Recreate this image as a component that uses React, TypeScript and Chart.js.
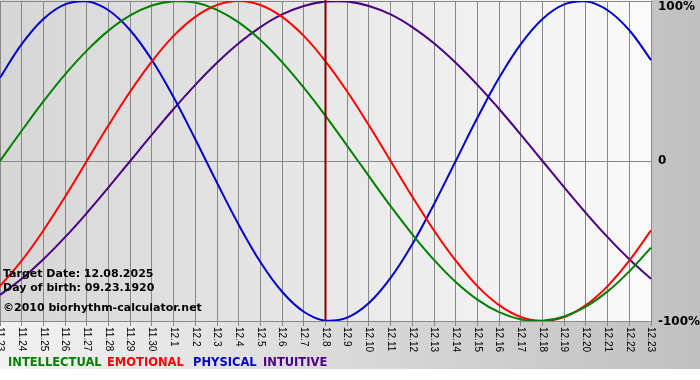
import { useEffect, useRef } from "react";
import { Chart, registerables } from "chart.js";

Chart.register(...registerables);

const dayLabels = ["11.23", "11.24", "11.25", "11.26", "11.27", "11.28", "11.29", "11.30", "12.1", "12.2", "12.3", "12.4", "12.5", "12.6", "12.7", "12.8", "12.9", "12.10", "12.11", "12.12", "12.13", "12.14", "12.15", "12.16", "12.17", "12.18", "12.19", "12.20", "12.21", "12.22", "12.23"];
const targetDay = "12.8";

const intellectual = [0, 0.189, 0.372, 0.541, 0.69, 0.815, 0.91, 0.972, 0.999, 0.99, 0.945, 0.866, 0.756, 0.618, 0.458, 0.282, 0.095, -0.095, -0.282, -0.458, -0.618, -0.756, -0.866, -0.945, -0.99, -0.999, -0.972, -0.91, -0.815, -0.69, -0.541];
const emotional = [-0.782, -0.623, -0.434, -0.223, 0, 0.223, 0.434, 0.623, 0.782, 0.901, 0.975, 1.0, 0.975, 0.901, 0.782, 0.623, 0.434, 0.223, 0, -0.223, -0.434, -0.623, -0.782, -0.901, -0.975, -1.0, -0.975, -0.901, -0.782, -0.623, -0.434];
const physical = [0.52, 0.731, 0.888, 0.979, 0.998, 0.942, 0.817, 0.631, 0.398, 0.136, -0.136, -0.398, -0.631, -0.817, -0.942, -0.998, -0.979, -0.888, -0.731, -0.52, -0.27, 0, 0.27, 0.52, 0.731, 0.888, 0.979, 0.998, 0.942, 0.817, 0.631];
const intuitive = [-0.837, -0.736, -0.614, -0.476, -0.325, -0.165, 0, 0.165, 0.325, 0.476, 0.614, 0.736, 0.837, 0.916, 0.969, 0.997, 0.997, 0.969, 0.916, 0.837, 0.736, 0.614, 0.476, 0.325, 0.165, 0, -0.165, -0.325, -0.476, -0.614, -0.736];

const seriesNames = ["INTELLECTUAL", "EMOTIONAL", "PHYSICAL", "INTUITIVE"];
const seriesColors = ["#008000", "#ff0000", "#0000cc", "#4b0082"];
const legendX = [8, 107, 193, 263];

const yTickValues = [1, 0, -1];
const yTickLabels = ["100%", "0", "-100%"];

const infoLines = ["Target Date: 12.08.2025", "Day of birth: 09.23.1920", "\u00a92010 biorhythm-calculator.net"];
const infoBaselines = [277, 291, 311];

const BOLD = "bold 11px 'DejaVu Sans'";

const decorPlugin = {
  id: "decor",
  beforeDraw(chart: any) {
    const { ctx, width, height, chartArea: a } = chart;
    ctx.save();
    ctx.fillStyle = "#ffffff";
    ctx.fillRect(0, 0, width, height);
    let g = ctx.createLinearGradient(0, 0, width, 0);
    g.addColorStop(0, "#f2f2f2");
    g.addColorStop(1, "#c0c0c0");
    ctx.fillStyle = g;
    ctx.fillRect(0, 0, width, 369);
    g = ctx.createLinearGradient(a.left, 0, a.right, 0);
    g.addColorStop(0, "#d6d6d6");
    g.addColorStop(1, "#fafafa");
    ctx.fillStyle = g;
    ctx.fillRect(a.left, 0, a.right - a.left, a.bottom);
    ctx.restore();
  },
  afterDatasetsDraw(chart: any) {
    const { ctx, chartArea: a, scales } = chart;
    const x = scales.x.getPixelForValue(dayLabels.indexOf(targetDay));
    ctx.save();
    ctx.strokeStyle = "#800000";
    ctx.lineWidth = 2;
    ctx.beginPath();
    ctx.moveTo(x, 0);
    ctx.lineTo(x, a.bottom);
    ctx.stroke();
    ctx.restore();
  },
  afterDraw(chart: any) {
    const { ctx, chartArea: a, scales } = chart;
    ctx.save();
    ctx.fillStyle = "#000000";
    ctx.font = "10px 'Liberation Sans'";
    ctx.textAlign = "left";
    ctx.textBaseline = "middle";
    dayLabels.forEach((lab, i) => {
      const x = scales.x.getPixelForValue(i);
      ctx.save();
      ctx.translate(x, a.bottom + 6);
      ctx.rotate(Math.PI / 2);
      ctx.fillText(lab, 0, 0);
      ctx.restore();
    });
    ctx.font = "bold 12px 'DejaVu Sans'";
    yTickValues.forEach((v, i) => {
      let y = scales.y.getPixelForValue(v);
      y = Math.max(y + (v < 0 ? 1 : 0), 7);
      ctx.fillText(yTickLabels[i], a.right + 7, y);
    });
    ctx.font = BOLD;
    ctx.textBaseline = "alphabetic";
    infoLines.forEach((t, i) => ctx.fillText(t, 3, infoBaselines[i]));
    ctx.font = "bold 11.5px 'DejaVu Sans'";
    seriesNames.forEach((n, i) => {
      ctx.fillStyle = seriesColors[i];
      ctx.fillText(n, legendX[i], 366);
    });
    ctx.restore();
  },
};

export default function App() {
  const ref = useRef<HTMLCanvasElement | null>(null);
  useEffect(() => {
    document.body.style.margin = "0";
    const canvas = ref.current;
    if (!canvas) return;
    const values = [intellectual, emotional, physical, intuitive];
    const chart = new Chart(canvas, {
      type: "line",
      data: {
        labels: dayLabels,
        datasets: values.map((d, i) => ({
          label: seriesNames[i],
          data: d,
          borderColor: seriesColors[i],
          backgroundColor: seriesColors[i],
          borderWidth: 2,
          pointRadius: 0,
          tension: 0.4,
          fill: false,
        })),
      },
      options: {
        animation: false,
        responsive: false,
        devicePixelRatio: 1,
        layout: { padding: { left: 0, right: 49, top: 1, bottom: 54 } },
        plugins: { legend: { display: false }, tooltip: { enabled: false } },
        events: [],
        scales: {
          x: {
            type: "category",
            offset: false,
            ticks: { display: false },
            border: { display: false },
            grid: { color: "#888888", lineWidth: 1, drawTicks: true, tickLength: 5 },
          },
          y: {
            min: -1,
            max: 1,
            ticks: { display: false, stepSize: 1 },
            border: { display: false },
            grid: { color: "#888888", lineWidth: 1, drawTicks: false },
          },
        },
      },
      plugins: [decorPlugin],
    });
    return () => chart.destroy();
  }, []);
  return <canvas ref={ref} width={700} height={380} style={{ display: "block" }} />;
}
